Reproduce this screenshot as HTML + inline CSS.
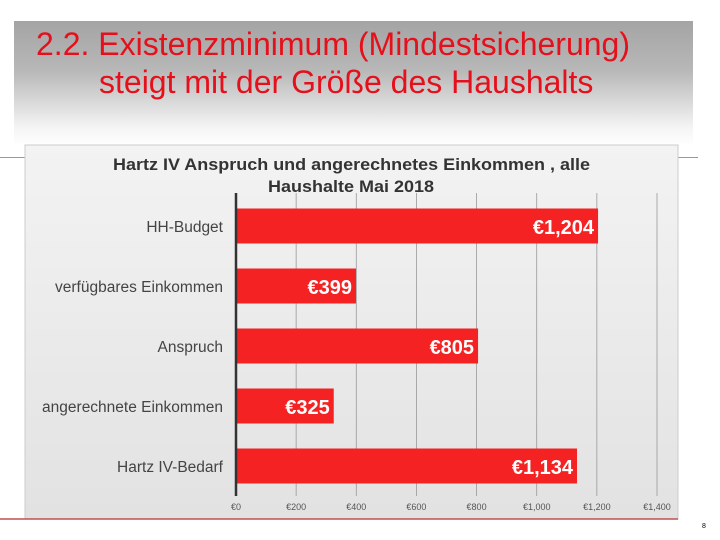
<!DOCTYPE html>
<html><head><meta charset="utf-8"><style>
body{margin:0;width:720px;height:540px;background:#fff;position:relative;overflow:hidden;font-family:"Liberation Sans",sans-serif}
#hdr{position:absolute;left:14px;top:21px;width:679px;height:125px;background:linear-gradient(#a4a4a4 0%,#b8b8b8 40%,#f4f4f4 85%,#fff 100%)}
.t{position:absolute;color:#e5101b;font-size:32px;white-space:nowrap}
</style></head><body>
<div id="hdr"></div>
<div class="t" style="left:36px;top:26px">2.2. Existenzminimum (Mindestsicherung)</div>
<div class="t" style="left:99px;top:64px">steigt mit der Größe des Haushalts</div>
<div style="position:absolute;left:0;top:157px;width:25px;border-top:1px solid #999"></div>
<div style="position:absolute;left:678px;top:157px;width:20px;border-top:1px solid #999"></div>
<svg id="c" width="720" height="540" style="position:absolute;left:0;top:0">
<defs><linearGradient id="pg" x1="0" y1="0" x2="0" y2="1"><stop offset="0" stop-color="#f3f3f3"/><stop offset="1" stop-color="#e2e2e2"/></linearGradient></defs>
<rect x="25" y="145" width="653" height="374" fill="url(#pg)" stroke="#ccc"/>
<line x1="0" y1="519" x2="678" y2="519" stroke="#c0504d" stroke-width="1.5"/>
<text x="113" y="170" textLength="477" lengthAdjust="spacingAndGlyphs" font-size="17" font-weight="bold" fill="#333">Hartz IV Anspruch und angerechnetes Einkommen , alle</text>
<text x="268" y="192" textLength="166" lengthAdjust="spacingAndGlyphs" font-size="17" font-weight="bold" fill="#333">Haushalte Mai 2018</text>
<text x="702" y="528" font-size="7" fill="#000">8</text>
<g id="g"></g>
</svg>
<script>
const categories=["HH-Budget","verfügbares Einkommen","Anspruch","angerechnete Einkommen","Hartz IV-Bedarf"];
const values=[1204,399,805,325,1134];
const valueLabels=["€1,204","€399","€805","€325","€1,134"];
const ticks=[0,200,400,600,800,1000,1200,1400];
const tickLabels=["€0","€200","€400","€600","€800","€1,000","€1,200","€1,400"];
const ns="http://www.w3.org/2000/svg";
const g=document.getElementById('g');
const x=v=>236+v*(421/1400);
const y=i=>226+i*60;
function mk(t,a){const e=document.createElementNS(ns,t);for(const k in a)e.setAttribute(k,a[k]);g.appendChild(e);return e;}
ticks.forEach((t,i)=>{
 if(i>0){const l=mk('line',{x1:x(t),x2:x(t),y1:193,y2:496,stroke:'#999','stroke-width':0.8});
 
 }
 const tx=mk('text',{x:x(t),y:510,'text-anchor':'middle','font-size':9,fill:'#555'});tx.textContent=tickLabels[i];
 
 
});
categories.forEach((c,i)=>{
 const r=mk('rect',{x:x(0),y:y(i)-17.5,width:x(values[i])-x(0),height:35,fill:'#f42222'});
 
 
 const v=mk('text',{x:x(values[i])-4,y:y(i)+8,'text-anchor':'end','font-size':20,'font-weight':'bold',fill:'#fff'});v.textContent=valueLabels[i];
 
 
 const l=mk('text',{x:223,y:y(i)+6,'text-anchor':'end','font-size':15.5,fill:'#444'});l.textContent=c;
 
 
});
const ax=mk('line',{x1:x(0),x2:x(0),y1:193,y2:496,stroke:'#333','stroke-width':2.5});


</script>
</body></html>
